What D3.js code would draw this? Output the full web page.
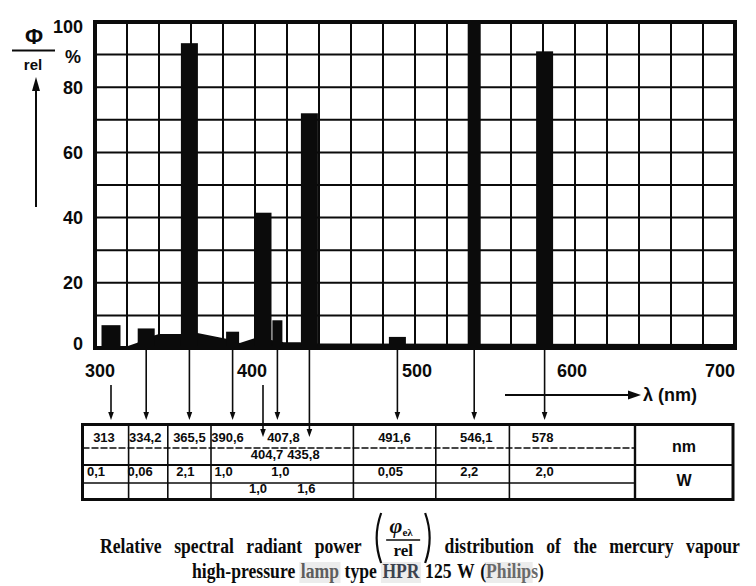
<!DOCTYPE html>
<html><head><meta charset="utf-8">
<script src="https://cdn.jsdelivr.net/npm/d3@7/dist/d3.min.js"></script>
<style>body{margin:0;background:#fff}svg{display:block}</style>
</head><body>
<svg id="chart" width="756" height="586"></svg>
<script>
// ---------- data ----------
const lineNm    = [313, 334.2, 365.5, 390.6, 404.7, 407.8, 435.8, 491.6, 546.1, 578];
const lineLabel = ["313","334,2","365,5","390,6","404,7","407,8","435,8","491,6","546,1","578"];
const linePos   = [310, 332, 359, 386, 405, 414, 434, 489, 537, 581];   // position as drawn on the λ axis
const lineRel   = [7, 6, 93.5, 5, 41.5, 8.5, 72, 3.4, 100, 91];          // Φ rel (%)
const linePower = ["0,1","0,06","2,1","1,0","1,0","1,0","1,6","0,05","2,2","2,0"]; // W
const lineRow   = [0,0,0,0,1,0,1,0,0,0];
const lineGroup = [0,1,2,3,3,3,3,4,5,6];
const contNm  = [317, 326, 336, 340, 354, 364, 382, 390.5, 401, 418, 428, 439, 700];
const contRel = [0,   1.5, 3.7, 4.3, 4.3, 4.6, 2.8, 1.5,  3.2, 1.8, 1.8, 1.4, 1.2];
const xTicks = [300, 400, 500, 600, 700];
const yTicks = [0, 20, 40, 60, 80, 100];

// ---------- layout ----------
const svg = d3.select("#chart");
const x = d3.scaleLinear().domain([300,700]).range([95,735]);
const y = d3.scaleLinear().domain([0,100]).range([348,22]);
const sans = "'Liberation Sans', Arial, Helvetica, sans-serif";
const serif = "'Liberation Serif', 'Times New Roman', serif";
const ink = "#0b0b0b";

const lines = lineNm.map((nm,i)=>({nm, label:lineLabel[i], pos:linePos[i], rel:lineRel[i],
  power:linePower[i], row:lineRow[i], group:lineGroup[i], i}));

// grid
const grid = svg.append("g");
grid.selectAll("line.v").data(d3.range(300,701,20)).join("line").attr("class","v")
  .attr("x1",d=>x(d)).attr("x2",d=>x(d)).attr("y1",y(100)).attr("y2",y(0))
  .attr("stroke",ink).attr("stroke-width",2);
grid.selectAll("line.h").data(d3.range(0,101,10)).join("line").attr("class","h")
  .attr("x1",x(300)).attr("x2",x(700)).attr("y1",d=>y(d)).attr("y2",d=>y(d))
  .attr("stroke",ink).attr("stroke-width",2);

// continuum
const cont = contNm.map((n,i)=>[n,contRel[i]]);
svg.append("path").datum(cont)
  .attr("d", d3.area().x(d=>x(d[0])).y0(y(0)).y1(d=>y(d[1])))
  .attr("fill",ink);

// bars
const barW = d => d.nm===407.8 ? 10 : (d.nm===546.1||d.nm===390.6) ? 13 : d.nm===313 ? 19 : 17;
svg.append("g").selectAll("rect").data(lines).join("rect")
  .attr("x",d=>x(d.pos)-barW(d)/2).attr("width",barW)
  .attr("y",d=>y(d.rel)).attr("height",d=>y(0)-y(d.rel))
  .attr("fill",ink);

// frame
svg.append("rect").attr("x",x(300)).attr("y",y(100)).attr("width",x(700)-x(300)).attr("height",y(0)-y(100))
  .attr("fill","none").attr("stroke",ink).attr("stroke-width",4);

// y tick labels
const yNudge = {0:-5, 100:4};
svg.append("g").selectAll("text").data(yTicks).join("text")
  .attr("x",83).attr("y",d=>y(d)+(yNudge[d]||0)+6.5)
  .attr("text-anchor","end").attr("font-family",sans).attr("font-weight","bold")
  .attr("font-size",18).attr("fill",ink).text(d=>d);

// x tick labels
const xNudge = {300:5, 400:-3, 500:2, 600:-3, 700:-15};
const xLab = svg.append("g").selectAll("text").data(xTicks).join("text")
  .attr("x",d=>x(d)+xNudge[d]).attr("y",377)
  .attr("text-anchor","middle").attr("font-family",sans).attr("font-weight","bold")
  .attr("font-size",18).attr("fill",ink).text(d=>d);
const labBoxes = xLab.nodes().map(n=>n.getBBox());

// y axis title
svg.append("text").attr("x",34).attr("y",44).attr("text-anchor","middle")
  .attr("font-family",sans).attr("font-weight","bold").attr("font-size",22).attr("fill",ink).text("Φ");
svg.append("line").attr("x1",12).attr("x2",55).attr("y1",50.5).attr("y2",50.5).attr("stroke",ink).attr("stroke-width",2);
svg.append("text").attr("x",33).attr("y",70).attr("text-anchor","middle")
  .attr("font-family",sans).attr("font-weight","bold").attr("font-size",15).attr("fill",ink).text("rel");
svg.append("text").attr("x",73).attr("y",63).attr("text-anchor","middle")
  .attr("font-family",sans).attr("font-weight","bold").attr("font-size",18).attr("fill",ink).text("%");
svg.append("line").attr("x1",36).attr("x2",36).attr("y1",207).attr("y2",88).attr("stroke",ink).attr("stroke-width",2);
svg.append("path").attr("d","M36,77 L40,91 L32,91 Z").attr("fill",ink);

// x axis title
svg.append("line").attr("x1",505).attr("x2",631).attr("y1",395).attr("y2",395).attr("stroke",ink).attr("stroke-width",2);
svg.append("path").attr("d","M641,395 L628,390.5 L628,399.5 Z").attr("fill",ink);
svg.append("text").attr("x",643).attr("y",401).attr("font-family",sans).attr("font-weight","bold")
  .attr("font-size",18).attr("fill",ink).text("λ (nm)");

// arrows from lines to table
const arrows = svg.append("g");
lines.forEach(d=>{
  const ax = x(d.pos);
  const hit = labBoxes.some(b => ax >= b.x-1 && ax <= b.x+b.width+1);
  const y0 = hit ? 385 : 350;
  const y1 = d.row===1 ? 437 : 420;
  arrows.append("line").attr("x1",ax).attr("x2",ax).attr("y1",y0).attr("y2",y1-6)
    .attr("stroke",ink).attr("stroke-width",1.6);
  arrows.append("path").attr("d",`M${ax},${y1} L${ax-2.8},${y1-8} L${ax+2.8},${y1-8} Z`).attr("fill",ink);
});

// table
const tL=82.5, tR=733, tT=424.5, tB=499.5, uX=635;
const tbl = svg.append("g");
const groups = d3.groups(lines, d=>d.group).map(([k,v])=>({min:d3.min(v,d=>x(d.pos)), max:d3.max(v,d=>x(d.pos))}));
const colB = [];
for (let k=0;k<groups.length-1;k++) colB.push((groups[k].max+groups[k+1].min)/2);
tbl.selectAll("line.c").data(colB).join("line").attr("class","c")
  .attr("x1",d=>d).attr("x2",d=>d).attr("y1",tT).attr("y2",tB).attr("stroke",ink).attr("stroke-width",1.6);
tbl.append("line").attr("x1",uX).attr("x2",uX).attr("y1",tT).attr("y2",tB).attr("stroke",ink).attr("stroke-width",2.4);
tbl.append("line").attr("x1",tL).attr("x2",uX).attr("y1",448).attr("y2",448).attr("stroke",ink)
  .attr("stroke-width",1.3).attr("stroke-dasharray","7,2");
tbl.append("line").attr("x1",tL).attr("x2",tR).attr("y1",465).attr("y2",465).attr("stroke",ink).attr("stroke-width",2);
tbl.append("line").attr("x1",tL).attr("x2",uX).attr("y1",483).attr("y2",483).attr("stroke",ink).attr("stroke-width",1.3);
tbl.append("rect").attr("x",tL).attr("y",tT).attr("width",tR-tL).attr("height",tB-tT)
  .attr("fill","none").attr("stroke",ink).attr("stroke-width",3);

const nmDx = [-7,-1,0,-5,4,6,-6,-3,2,-2];
const wDx  = [-15,-6,-4,-9,-5,3,-3,-7,-5,0];
tbl.selectAll("text.nm").data(lines).join("text").attr("class","nm")
  .attr("x",d=>x(d.pos)+nmDx[d.i]).attr("y",d=>d.row===0?442:459)
  .attr("text-anchor","middle").attr("font-family",sans).attr("font-weight","bold")
  .attr("font-size",13).attr("fill",ink).text(d=>d.label);
tbl.selectAll("text.w").data(lines).join("text").attr("class","w")
  .attr("x",d=>x(d.pos)+wDx[d.i]).attr("y",d=>d.row===0?476:493)
  .attr("text-anchor","middle").attr("font-family",sans).attr("font-weight","bold")
  .attr("font-size",13).attr("fill",ink).text(d=>d.power);
tbl.append("text").attr("x",(uX+tR)/2).attr("y",452).attr("text-anchor","middle")
  .attr("font-family",sans).attr("font-weight","bold").attr("font-size",16).attr("fill",ink).text("nm");
tbl.append("text").attr("x",(uX+tR)/2).attr("y",486).attr("text-anchor","middle")
  .attr("font-family",sans).attr("font-weight","bold").attr("font-size",16).attr("fill",ink).text("W");

// ---------- caption ----------
const cap = svg.append("g");
const capFs = 21, squeeze = 0.84;
// each word is a text inside a horizontally condensed group
function word(parts, yy){
  const g = cap.append("g");
  const el = g.append("text").attr("x",0).attr("y",0).attr("font-family",serif)
    .attr("font-weight","bold").attr("font-size",capFs);
  parts.forEach(([t,fill])=>el.append("tspan").attr("fill",fill||ink).text(t));
  const w = el.node().getComputedTextLength()*squeeze;
  const o = {g, el, w, x:0, y:yy};
  o.place = xx => { o.x = xx; g.attr("transform",`translate(${xx},${yy}) scale(${squeeze},1)`); };
  return o;
}
// line 1 (justified 100..740)
const partA = ["Relative","spectral","radiant","power"];
const partB = ["distribution","of","the","mercury","vapour"];
const fracW = 58;
const wa = partA.map(t=>word([[t]],553));
const wb = partB.map(t=>word([[t]],553));
const sumW = d3.sum(wa,d=>d.w)+d3.sum(wb,d=>d.w)+fracW;
const gap = (740-100-sumW)/(partA.length+partB.length);
let cx = 100;
wa.forEach(o=>{o.place(cx); cx += o.w+gap;});
const fx = cx; cx += fracW+gap;
wb.forEach(o=>{o.place(cx); cx += o.w+gap;});
// fraction
const fc = fx+fracW/2;
cap.append("path").attr("d",`M${fx+7},513 Q${fx-2},538 ${fx+7},563`).attr("fill","none").attr("stroke",ink).attr("stroke-width",2.2);
cap.append("path").attr("d",`M${fx+fracW-7},513 Q${fx+fracW+2},538 ${fx+fracW-7},563`).attr("fill","none").attr("stroke",ink).attr("stroke-width",2.2);
const phi = cap.append("text").attr("x",fc-2).attr("y",533).attr("text-anchor","middle")
  .attr("font-family",serif).attr("font-weight","bold").attr("fill",ink);
phi.append("tspan").attr("font-style","italic").attr("font-size",22).text("φ");
phi.append("tspan").attr("font-size",11).attr("dy",3).text("eλ");
cap.append("line").attr("x1",fc-17).attr("x2",fc+17).attr("y1",540).attr("y2",540).attr("stroke",ink).attr("stroke-width",1.6);
cap.append("text").attr("x",fc).attr("y",556).attr("text-anchor","middle")
  .attr("font-family",serif).attr("font-weight","bold").attr("font-size",17).attr("fill",ink).text("rel");

// line 2 (centered)
const hlFill = {lamp:"#5e5e5e", HPR:"#3d4350", Philips:"#6a6a6a"};
const l2 = [
  {parts:[["high-pressure"]]},
  {parts:[["lamp",hlFill.lamp]], hl:[0,4]},
  {parts:[["type"]]},
  {parts:[["HPR",hlFill.HPR]], hl:[0,3]},
  {parts:[["125"]]},
  {parts:[["W"]]},
  {parts:[["("],["Philips",hlFill.Philips],[")"]], hl:[1,7]}
];
const w2 = l2.map(d=>word(d.parts,578));
const sp = 5.5;
const tot = d3.sum(w2,o=>o.w) + sp*(w2.length-1);
let x2 = 368 - tot/2;
w2.forEach((o,i)=>{
  o.place(x2);
  const hl = l2[i].hl;
  if (hl) {
    const n = o.el.node();
    const a = hl[0]===0 ? 0 : n.getSubStringLength(0,hl[0]);
    const b = n.getSubStringLength(0,hl[1]);
    cap.insert("rect",":first-child").attr("x",x2+a*squeeze-1.5).attr("y",562)
      .attr("width",(b-a)*squeeze+3).attr("height",21).attr("fill","#ececec");
  }
  x2 += o.w + sp;
});
</script>
</body></html>
